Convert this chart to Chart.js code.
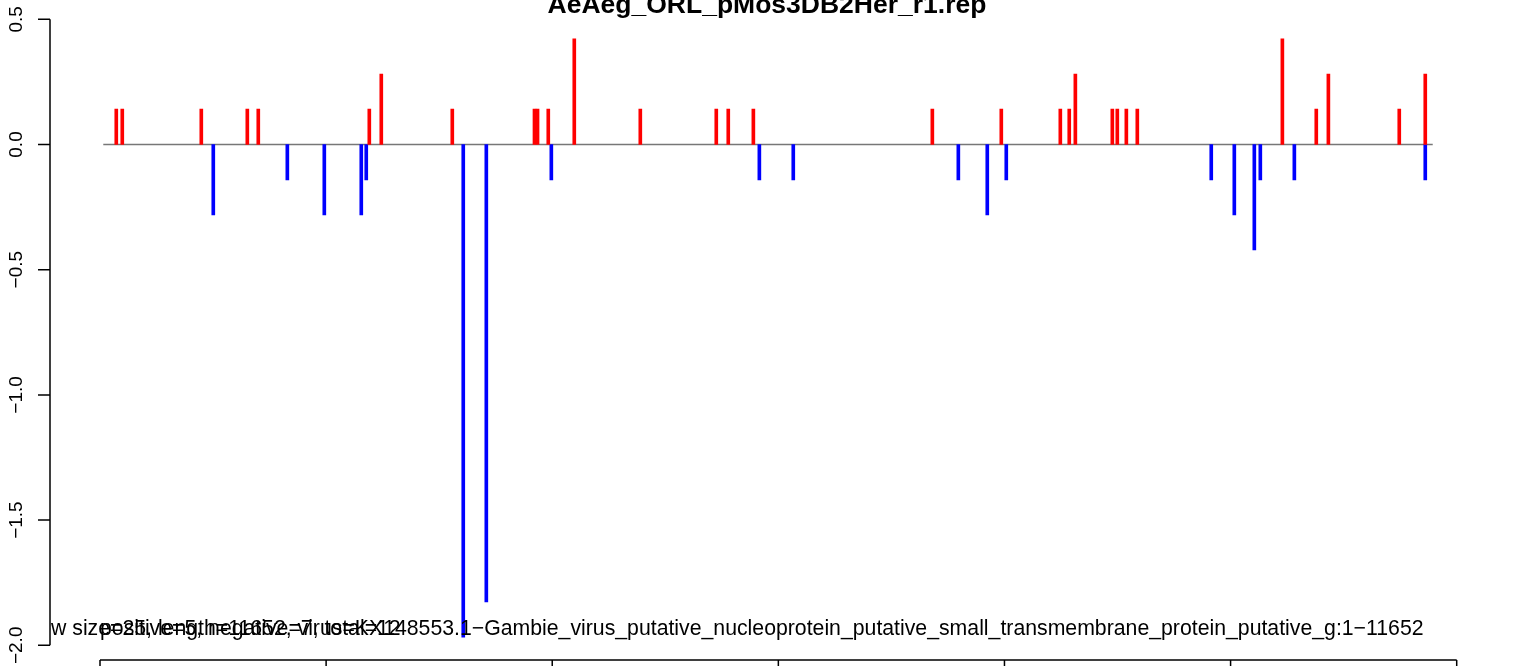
<!DOCTYPE html>
<html>
<head>
<meta charset="utf-8">
<script src="https://cdn.jsdelivr.net/npm/chart.js@4.4.0/dist/chart.umd.min.js"></script>
<style>
  body { margin: 0; background: #fff; overflow: hidden; }
  canvas { display: block; }
</style>
</head>
<body>
<canvas id="cov" width="1533" height="666"></canvas>
<script>
// positive strand reads (position, normalised count)
const plusPos = [144, 197, 896, 1303, 1400, 2382, 2488, 3116, 3843, 3870, 3965, 4195, 4779, 5451, 5557,
                 5779, 7362, 7972, 8494, 8573, 8627, 8954, 8998, 9078, 9175, 10458, 10758, 10865, 11492, 11722];
const plusVal = [0.141, 0.141, 0.141, 0.141, 0.141, 0.141, 0.281, 0.141, 0.141, 0.141, 0.141, 0.422, 0.141, 0.141, 0.141,
                 0.141, 0.141, 0.141, 0.141, 0.141, 0.281, 0.141, 0.141, 0.141, 0.141, 0.422, 0.141, 0.281, 0.141, 0.281];

// negative strand reads
const minusPos = [1002, 1657, 1984, 2311, 2355, 3213, 3417, 3992, 5832, 6132, 7592, 7848, 8016,
                  9829, 10033, 10210, 10263, 10564, 11722];
const minusVal = [-0.281, -0.141, -0.281, -0.281, -0.141, -1.968, -1.827, -0.141, -0.141, -0.141, -0.141, -0.281, -0.141,
                  -0.141, -0.281, -0.421, -0.141, -0.141, -0.141];

const baseLine = [29, 11788];
const yTicks = [0.5, 0.0, -0.5, -1.0, -1.5, -2.0];
const xTicks = [0, 2000, 4000, 6000, 8000, 10000, 12000];

const title = 'AeAeg_ORL_pMos3DB2Her_r1.rep';
const infoText = 'window size=25, length=11652, virus=KX148553.1\u2212Gambie_virus_putative_nucleoprotein_putative_small_transmembrane_protein_putative_g:1\u221211652';
const countText = 'positive=5, negative=7, total=12';

const FONT = '"Liberation Sans", Arial, Helvetica, sans-serif';

function fmt(v) {
    return v.toFixed(1).replace('-', '\u2212');
}

const rAxes = {
    id: 'rAxes',
    afterDraw(chart) {
        const ctx = chart.ctx;
        const xs = chart.scales.x, ys = chart.scales.y;
        ctx.save();
        ctx.strokeStyle = '#000';
        ctx.fillStyle = '#000';
        ctx.lineWidth = 1.5;

        // left axis
        const ax = 50;
        ctx.beginPath();
        ctx.moveTo(ax, ys.getPixelForValue(yTicks[0]));
        ctx.lineTo(ax, ys.getPixelForValue(yTicks[yTicks.length - 1]));
        yTicks.forEach(t => {
            const py = ys.getPixelForValue(t);
            ctx.moveTo(ax, py);
            ctx.lineTo(ax - 12, py);
        });
        ctx.stroke();

        ctx.font = '19px ' + FONT;
        ctx.textAlign = 'center';
        ctx.textBaseline = 'alphabetic';
        yTicks.forEach(t => {
            ctx.save();
            ctx.translate(22, ys.getPixelForValue(t));
            ctx.rotate(-Math.PI / 2);
            ctx.fillText(fmt(t), 0, 0);
            ctx.restore();
        });

        // bottom axis, mostly off the page
        const by = 660;
        ctx.beginPath();
        ctx.moveTo(xs.getPixelForValue(xTicks[0]), by);
        ctx.lineTo(xs.getPixelForValue(xTicks[xTicks.length - 1]), by);
        xTicks.forEach(t => {
            const px = xs.getPixelForValue(t);
            ctx.moveTo(px, by);
            ctx.lineTo(px, by + 12);
        });
        ctx.stroke();

        // title
        ctx.font = 'bold 26.5px ' + FONT;
        ctx.textAlign = 'center';
        ctx.fillText(title, 767, 13);

        // sub text, clipped at the axis
        ctx.beginPath();
        ctx.rect(50, 0, chart.width - 50, chart.height);
        ctx.clip();
        ctx.font = '21.25px ' + FONT;
        ctx.textAlign = 'left';
        const skip = ctx.measureText('windo').width;
        ctx.fillText(infoText, 51 - skip, 635);
        ctx.fillText(countText, 100, 635);
        ctx.restore();
    }
};

new Chart(document.getElementById('cov'), {
    type: 'bar',
    data: {
        datasets: [
            {
                label: 'plus',
                data: plusPos.map((p, i) => ({ x: p, y: plusVal[i] })),
                backgroundColor: '#ff0000',
                barThickness: 3,
                order: 1
            },
            {
                label: 'minus',
                data: minusPos.map((p, i) => ({ x: p, y: minusVal[i] })),
                backgroundColor: '#0000ff',
                barThickness: 3,
                order: 1
            },
            {
                type: 'line',
                label: 'zero',
                data: baseLine.map(p => ({ x: p, y: 0 })),
                borderColor: '#777777',
                borderWidth: 1.5,
                pointRadius: 0,
                order: 2
            }
        ]
    },
    options: {
        responsive: false,
        animation: false,
        devicePixelRatio: 1,
        grouped: false,
        layout: { padding: { left: 100, right: 76.3, top: 0, bottom: 0 } },
        plugins: { legend: { display: false }, tooltip: { enabled: false } },
        scales: {
            x: { type: 'linear', min: 0, max: 12000, offset: false, display: false },
            y: { min: -2.0827, max: 0.5771, display: false }
        }
    },
    plugins: [rAxes]
});
</script>
</body>
</html>
